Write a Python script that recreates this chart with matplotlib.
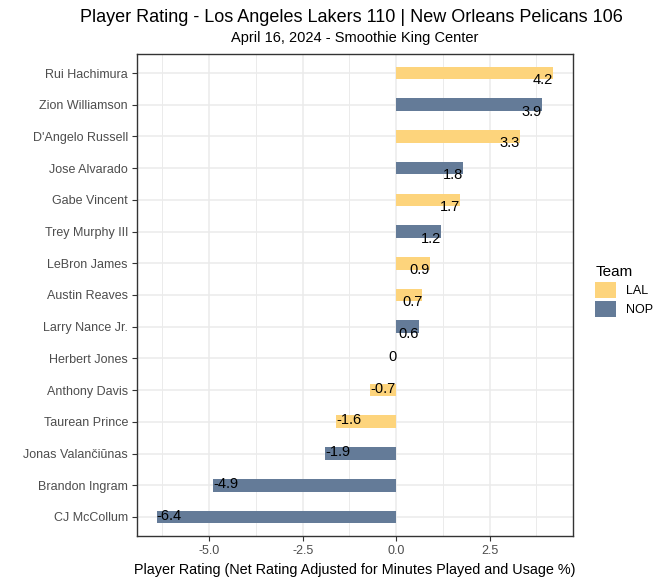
import numpy as np
import matplotlib
matplotlib.use("Agg")
import matplotlib.pyplot as plt
from matplotlib.patches import Patch

plt.rcParams['font.family'] = ['Liberation Sans', 'DejaVu Sans']

# data (top to bottom)
players = ["Rui Hachimura", "Zion Williamson", "D'Angelo Russell", "Jose Alvarado",
           "Gabe Vincent", "Trey Murphy III", "LeBron James", "Austin Reaves",
           "Larry Nance Jr.", "Herbert Jones", "Anthony Davis", "Taurean Prince",
           "Jonas Valančiūnas", "Brandon Ingram", "CJ McCollum"]
rating = [4.2, 3.9, 3.3, 1.8, 1.7, 1.2, 0.9, 0.7, 0.6, 0.0, -0.7, -1.6, -1.9, -4.9, -6.4]
team = ["LAL", "NOP", "LAL", "NOP", "LAL", "NOP", "LAL", "LAL",
        "NOP", "NOP", "LAL", "LAL", "NOP", "NOP", "NOP"]

team_colors = {"LAL": "#FDD47C", "NOP": "#647B98"}
xticks = [-5.0, -2.5, 0.0, 2.5]

W, H = 666, 582
fig = plt.figure(figsize=(W / 100, H / 100), dpi=100)
left, right, top, bottom = 137, 573, 54, 536
ax = fig.add_axes([left / W, 1 - bottom / H, (right - left) / W, (bottom - top) / H])

n = len(players)
ypos = np.arange(n)[::-1] + 1
cols = [team_colors[t] for t in team]
ax.barh(ypos, rating, height=0.4, color=cols, zorder=2)

# labels: positive below-right of bar end, negative / zero above
for y, v in zip(ypos, rating):
    lab = f"{v:g}"
    if v > 0:
        ax.text(v, y, lab, ha='right', va='top', fontsize=10.5, color='black', zorder=3)
    elif v < 0:
        ax.text(v, y - 0.08, lab, ha='left', va='baseline', fontsize=10.5, color='black', zorder=3)
    else:
        ax.text(v, y - 0.08, lab, ha='right', va='baseline', fontsize=10.5, color='black', zorder=3)

lo, hi = min(min(rating), 0), max(max(rating), 0)
pad = 0.05 * (hi - lo)
ax.set_xlim(lo - pad, hi + pad)
ax.set_ylim(0.4, n + 0.6)

ax.set_xticks(xticks)
ax.set_xticklabels([f"{t:.1f}" for t in xticks])
ax.set_xticks([-6.25, -3.75, -1.25, 1.25, 3.75], minor=True)
ax.set_yticks(ypos)
ax.set_yticklabels(players)

ax.grid(True, which='major', color='#EBEBEB', linewidth=1.1, zorder=0)
ax.grid(True, which='minor', axis='x', color='#EBEBEB', linewidth=0.7, zorder=0)
ax.set_axisbelow(True)
for s in ax.spines.values():
    s.set_color('#333333')
    s.set_linewidth(1.0)
ax.tick_params(axis='both', which='major', colors='#333333', labelcolor='#4D4D4D',
               labelsize=9, length=3.5, width=0.8, pad=3)
ax.tick_params(axis='x', which='minor', length=0)

ax.set_xlabel("Player Rating (Net Rating Adjusted for Minutes Played and Usage %)",
              fontsize=10.4, color='black', labelpad=4)

fig.text(351 / W, 1 - 17 / H, "Player Rating - Los Angeles Lakers 110 | New Orleans Pelicans 106",
         ha='center', va='center', fontsize=13, color='black')
fig.text(355 / W, 1 - 38 / H, "April 16, 2024 - Smoothie King Center",
         ha='center', va='center', fontsize=10.5, color='black')

handles = [Patch(facecolor=team_colors[k], edgecolor='none', label=k) for k in ["LAL", "NOP"]]
leg = fig.legend(handles=handles, title="Team", loc='upper left',
                 bbox_to_anchor=(584 / W, 1 - 254 / H), frameon=False,
                 fontsize=9, title_fontsize=11, handlelength=1.65, handleheight=1.6,
                 handletextpad=0.8, labelspacing=0.22, alignment='left')

fig.savefig("out.png", dpi=100)
